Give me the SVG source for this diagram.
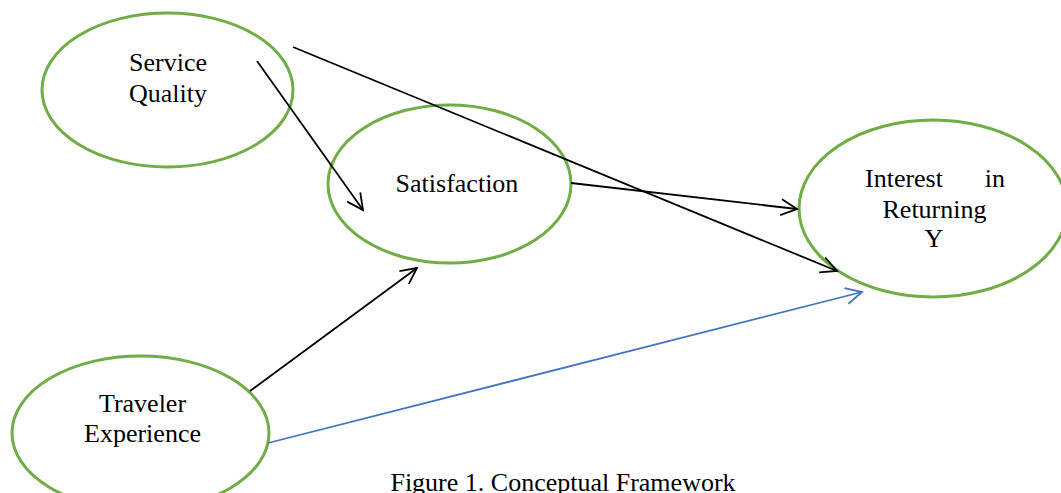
<svg xmlns="http://www.w3.org/2000/svg" width="1061" height="493" viewBox="0 0 1061 493">
<style>
.node{fill:#fff;stroke:#70AD47;stroke-width:3}
.t{font-family:"Liberation Serif","Times New Roman",serif;font-size:26px;fill:#000}
.c{stroke:#000;stroke-width:1.8;fill:none}
.b{stroke:#4472C4;stroke-width:1.8;fill:none}
</style>
<defs>
<marker id="ak" markerUnits="userSpaceOnUse" markerWidth="30" markerHeight="30" refX="0" refY="0" viewBox="-20 -15 30 30" orient="auto"><path d="M-16,-8 L0,0 L-16,8" fill="none" stroke="#000" stroke-width="1.8"/></marker>
<marker id="ab" markerUnits="userSpaceOnUse" markerWidth="30" markerHeight="30" refX="0" refY="0" viewBox="-20 -15 30 30" orient="auto"><path d="M-16,-8 L0,0 L-16,8" fill="none" stroke="#4472C4" stroke-width="1.8"/></marker>
</defs>
<g id="n-service"><ellipse class="node" cx="167.5" cy="90" rx="125.5" ry="77"/><text class="t" x="168" y="71" text-anchor="middle">Service</text><text class="t" x="168" y="102" text-anchor="middle">Quality</text></g>
<g id="n-satisfaction"><ellipse class="node" cx="449.5" cy="184" rx="121.5" ry="79"/><text class="t" x="457" y="192" text-anchor="middle">Satisfaction</text></g>
<g id="n-interest"><ellipse class="node" cx="933" cy="208.5" rx="134" ry="88.5"/><text class="t" x="865" y="187">Interest</text><text class="t" x="1005" y="187" text-anchor="end">in</text><text class="t" x="934.5" y="218" text-anchor="middle">Returning</text><text class="t" x="934" y="247" text-anchor="middle">Y</text></g>
<g id="n-traveler"><ellipse class="node" cx="140.5" cy="433" rx="128.5" ry="77"/><text class="t" x="142.5" y="412" text-anchor="middle">Traveler</text><text class="t" x="142.5" y="442" text-anchor="middle">Experience</text></g>
<g id="connectors">
<line class="c" x1="293" y1="47" x2="837" y2="271" marker-end="url(#ak)"/>
<line class="c" x1="257" y1="61" x2="363" y2="210" marker-end="url(#ak)"/>
<line class="c" x1="571" y1="183" x2="797" y2="209" marker-end="url(#ak)"/>
<line class="c" x1="250" y1="391" x2="417" y2="268" marker-end="url(#ak)"/>
<line class="b" x1="268" y1="443" x2="862" y2="292" marker-end="url(#ab)"/>
</g>
<text class="t" x="563" y="491" text-anchor="middle">Figure 1. Conceptual Framework</text>
</svg>
